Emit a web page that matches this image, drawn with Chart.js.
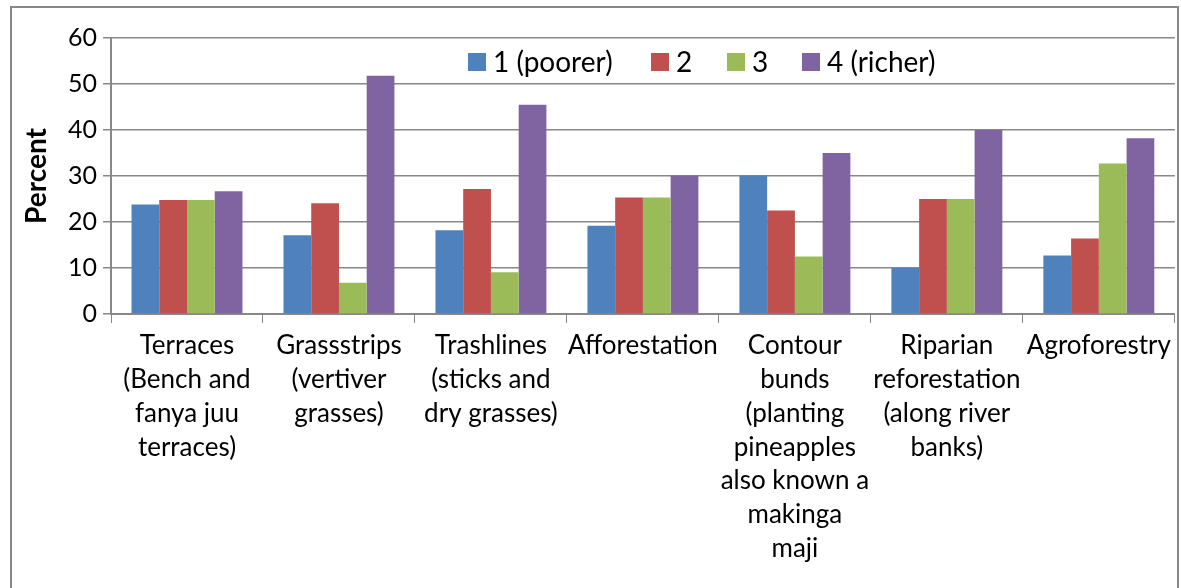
<!DOCTYPE html>
<html>
<head>
<meta charset="utf-8">
<script src="https://cdn.jsdelivr.net/npm/chart.js@4/dist/chart.umd.min.js"></script>
<style>
  html, body { margin: 0; padding: 0; background: #fff; }
  #wrap {
    position: absolute; left: 10px; top: 6px;
    width: 1169px; height: 582px;
    border-left: 2px solid #888; border-top: 2px solid #888; border-right: 2px solid #888;
    box-sizing: border-box;
  }
  #chart { position: absolute; left: 0; top: 0; }
</style>
</head>
<body>
<div id="wrap"><canvas id="chart" width="1165" height="580"></canvas></div>
<script>
// Categorias (eixo X)
const categories = [
    ['Terraces', '(Bench and', 'fanya juu', 'terraces)'],
    ['Grassstrips', '(vertiver', 'grasses)'],
    ['Trashlines', '(sticks and', 'dry grasses)'],
    ['Afforestation'],
    ['Contour', 'bunds', '(planting', 'pineapples', 'also known a', 'makinga', 'maji'],
    ['Riparian', 'reforestation', '(along river', 'banks)'],
    ['Agroforestry']
];

// Séries
const seriesLabels = ['1 (poorer)', '2', '3', '4 (richer)'];
const poorer = [23.8, 17.1, 18.2, 19.2, 30.1, 10.0, 12.7];
const second = [24.8, 24.1, 27.2, 25.3, 22.5, 25.0, 16.4];
const third = [24.8, 6.8, 9.1, 25.3, 12.5, 25.0, 32.7];
const richer = [26.7, 51.8, 45.5, 30.1, 35.0, 40.0, 38.2];

const yTicks = [0, 10, 20, 30, 40, 50, 60];
const colors = ['#4F81BD', '#C0504D', '#9BBB59', '#8064A2'];

const FONT = "Lato, 'Open Sans', sans-serif";

// Legenda desenhada dentro da área do gráfico (coordenadas do canvas)
const insideLegend = {
    id: 'insideLegend',
    afterDraw(chart) {
        const ctx = chart.ctx;
        const boxX = [456, 639, 715, 790];
        ctx.save();
        ctx.font = `28px ${FONT}`;
        ctx.textBaseline = 'middle';
        const y = 54;
        boxX.forEach((x, i) => {
            ctx.fillStyle = colors[i];
            ctx.fillRect(x, y - 9, 18, 18);
            ctx.fillStyle = '#000';
            ctx.fillText(seriesLabels[i], x + 25, y + 1);
        });
        ctx.restore();
    }
};

const datasets = [poorer, second, third, richer].map((data, i) => ({
    label: seriesLabels[i],
    data: data,
    backgroundColor: colors[i],
    borderWidth: 0,
    barPercentage: 1.0,
    categoryPercentage: 0.73
}));

new Chart(document.getElementById('chart'), {
    type: 'bar',
    data: { labels: categories, datasets: datasets },
    plugins: [insideLegend],
    options: {
        responsive: false,
        animation: false,
        layout: { padding: { top: 30, right: 2, left: 8, bottom: 0 } },
        plugins: {
            legend: { display: false },
            tooltip: { enabled: false }
        },
        scales: {
            x: {
                grid: {
                    display: true,
                    drawOnChartArea: false,
                    drawTicks: true,
                    tickLength: 9,
                    color: '#888',
                    offset: true
                },
                border: { color: '#888', width: 2 },
                ticks: {
                    color: '#000',
                    font: { family: FONT, size: 26, lineHeight: 1.3 },
                    maxRotation: 0,
                    autoSkip: false,
                    padding: 6
                },
                afterFit: (scale) => { scale.height = 274; }
            },
            y: {
                min: 0,
                max: 60,
                afterBuildTicks: (scale) => { scale.ticks = yTicks.map(v => ({ value: v })); },
                grid: { color: '#888', lineWidth: 1.5, tickLength: 8 },
                border: { color: '#888', width: 2 },
                ticks: {
                    color: '#000',
                    font: { family: FONT, size: 25 },
                    padding: 6
                },
                title: {
                    display: true,
                    text: 'Percent',
                    color: '#000',
                    font: { family: FONT, size: 28, weight: 'bold' },
                    padding: { top: 0, bottom: 4 }
                },
                afterFit: (scale) => { scale.width = 91; }
            }
        }
    }
});
</script>
</body>
</html>
